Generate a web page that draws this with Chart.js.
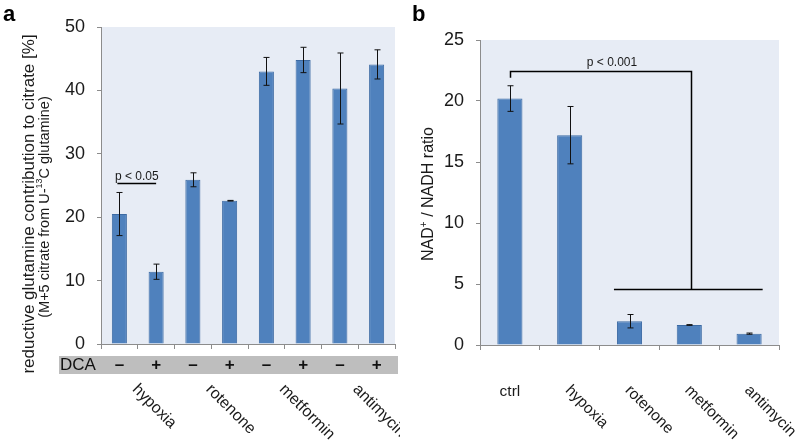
<!DOCTYPE html>
<html>
<head>
<meta charset="utf-8">
<script src="https://cdn.jsdelivr.net/npm/chart.js@4.4.1/dist/chart.umd.min.js"></script>
<style>
  html, body { margin: 0; padding: 0; background: #fff; }
  #wrap { width: 800px; height: 448px; display: flex; }
  canvas { display: block; }
</style>
</head>
<body>
<div id="wrap">
  <canvas id="chart-a" width="400" height="448"></canvas>
  <canvas id="chart-b" width="400" height="448"></canvas>
</div>
<script>
'use strict'

// **** DATA ****
const dcaSigns = ['–', '+', '–', '+', '–', '+', '–', '+'];
const treatmentGroups = ['hypoxia', 'rotenone', 'metformin', 'antimycin'];
const contribMeans = [20.5, 11.4, 25.9, 22.6, 43.0, 44.8, 40.3, 44.1];
const contribErrors = [3.4, 1.2, 1.1, 0.05, 2.2, 2.0, 5.6, 2.3];
const contribTicks = [0, 10, 20, 30, 40, 50];

const ratioLabels = ['ctrl', 'hypoxia', 'rotenone', 'metformin', 'antimycin'];
const ratioMeans = [20.2, 17.2, 1.95, 1.64, 0.93];
const ratioErrors = [1.05, 2.35, 0.55, 0.03, 0.05];
const ratioTicks = [0, 5, 10, 15, 20, 25];

// **** STYLE ****
const FONT = '"Liberation Sans", Arial, sans-serif';
const barFill = '#4F81BD';
const barEdge = '#3C6AA3';
const plotBg = '#E7ECF5';
const axisGray = '#8C8C8C';
const textColor = '#1a1a1a';

// **** PLUGINS ****
const plotBackground = {
    id: 'plotBackground',
    beforeDraw(chart) {
        const a = chart.chartArea;
        const ctx = chart.ctx;
        ctx.save();
        ctx.fillStyle = plotBg;
        ctx.fillRect(a.left, a.top, a.right - a.left, a.bottom - a.top);
        ctx.restore();
    }
};

const errorBars = {
    id: 'errorBars',
    afterDatasetsDraw(chart, args, opts) {
        const ctx = chart.ctx;
        const y = chart.scales.y;
        const meta = chart.getDatasetMeta(0);
        const means = chart.data.datasets[0].data;
        ctx.save();
        ctx.strokeStyle = '#111';
        ctx.lineWidth = 1;
        meta.data.forEach((bar, i) => {
            const err = opts.errors[i];
            const top = y.getPixelForValue(means[i] + err);
            const bot = y.getPixelForValue(means[i] - err);
            const x = Math.round(bar.x) + 0.5;
            ctx.beginPath();
            ctx.moveTo(x, top); ctx.lineTo(x, bot);
            ctx.moveTo(x - 3, top); ctx.lineTo(x + 3, top);
            ctx.moveTo(x - 3, bot); ctx.lineTo(x + 3, bot);
            ctx.stroke();
        });
        ctx.restore();
    }
};

function rotatedLabel(ctx, text, x, y) {
    ctx.save();
    ctx.translate(x, y);
    ctx.rotate(Math.PI / 4);
    ctx.textAlign = 'left';
    ctx.textBaseline = 'middle';
    ctx.fillText(text, 0, 0);
    ctx.restore();
}

function verticalText(ctx, text, x, y, font) {
    ctx.save();
    ctx.translate(x, y);
    ctx.rotate(-Math.PI / 2);
    ctx.font = font;
    ctx.textAlign = 'center';
    ctx.textBaseline = 'middle';
    ctx.fillText(text, 0, 0);
    ctx.restore();
}

const panelADecor = {
    id: 'panelADecor',
    afterDraw(chart) {
        const ctx = chart.ctx;
        const xs = chart.scales.x;
        const ys = chart.scales.y;
        const area = chart.chartArea;
        ctx.save();
        ctx.fillStyle = '#000';

        // panel letter
        ctx.font = 'bold 22px ' + FONT;
        ctx.textBaseline = 'alphabetic';
        ctx.fillText('a', 3, 21);

        // axis titles
        ctx.fillStyle = textColor;
        verticalText(ctx, 'reductive glutamine contribution to citrate [%]', 29, 204, '17px ' + FONT);
        // second line, with superscript 13
        ctx.save();
        ctx.translate(45, 207);
        ctx.rotate(-Math.PI / 2);
        ctx.textBaseline = 'middle';
        const partA = '(M+5 citrate from U-';
        const partB = '13';
        const partC = 'C glutamine)';
        ctx.font = '14.5px ' + FONT;
        const wA = ctx.measureText(partA).width;
        const wC = ctx.measureText(partC).width;
        ctx.font = '9px ' + FONT;
        const wB = ctx.measureText(partB).width;
        let cx = -(wA + wB + wC) / 2;
        ctx.font = '14.5px ' + FONT;
        ctx.fillText(partA, cx, 0);
        ctx.font = '9px ' + FONT;
        ctx.fillText(partB, cx + wA, -5);
        ctx.font = '14.5px ' + FONT;
        ctx.fillText(partC, cx + wA + wB, 0);
        ctx.restore();

        // DCA band
        ctx.fillStyle = '#BEBEBE';
        ctx.fillRect(59, area.bottom + 12, area.right + 3 - 59, 18);
        ctx.fillStyle = '#111';
        ctx.font = '17px ' + FONT;
        ctx.textBaseline = 'middle';
        ctx.textAlign = 'left';
        ctx.fillText('DCA', 60, area.bottom + 21.5);
        ctx.textAlign = 'center';
        ctx.font = 'bold 17px ' + FONT;
        dcaSigns.forEach((s, i) => {
            ctx.fillText(s, xs.getPixelForValue(i), area.bottom + 21.5);
        });

        // treatment labels, one per DCA pair
        ctx.font = '16px ' + FONT;
        ctx.fillStyle = textColor;
        treatmentGroups.forEach((g, k) => {
            const mid = (xs.getPixelForValue(2 * k) + xs.getPixelForValue(2 * k + 1)) / 2;
            rotatedLabel(ctx, g, mid - 3, area.bottom + 43);
        });

        // significance line
        const x0 = xs.getPixelForValue(0);
        const x1 = xs.getPixelForValue(1);
        const py = Math.round(ys.getPixelForValue(25.4)) + 0.5;
        ctx.strokeStyle = '#000';
        ctx.lineWidth = 1.5;
        ctx.beginPath();
        ctx.moveTo(x0 - 2, py); ctx.lineTo(x1, py);
        ctx.stroke();
        ctx.font = '12px ' + FONT;
        ctx.textAlign = 'center';
        ctx.textBaseline = 'alphabetic';
        ctx.fillText('p < 0.05', (x0 + x1) / 2 - 1, py - 4);
        ctx.restore();
    }
};

const panelBDecor = {
    id: 'panelBDecor',
    afterDraw(chart) {
        const ctx = chart.ctx;
        const xs = chart.scales.x;
        const ys = chart.scales.y;
        const area = chart.chartArea;
        const meta = chart.getDatasetMeta(0);
        ctx.save();

        ctx.fillStyle = '#000';
        ctx.font = 'bold 22px ' + FONT;
        ctx.fillText('b', 12, 21);

        // y title with superscript +
        ctx.fillStyle = textColor;
        ctx.save();
        ctx.translate(29, 194);
        ctx.rotate(-Math.PI / 2);
        ctx.textBaseline = 'middle';
        ctx.font = '16px ' + FONT;
        const w1 = ctx.measureText('NAD').width;
        const w3 = ctx.measureText(' / NADH ratio').width;
        ctx.font = '10px ' + FONT;
        const w2 = ctx.measureText('+').width;
        const sx = -(w1 + w2 + w3) / 2;
        ctx.font = '16px ' + FONT;
        ctx.fillText('NAD', sx, 0);
        ctx.font = '10px ' + FONT;
        ctx.fillText('+', sx + w1, -5);
        ctx.font = '16px ' + FONT;
        ctx.fillText(' / NADH ratio', sx + w1 + w2, 0);
        ctx.restore();

        // x labels
        ctx.font = '15.5px ' + FONT;
        ratioLabels.forEach((lab, i) => {
            const x = xs.getPixelForValue(i);
            if (i === 0) {
                ctx.textAlign = 'center';
                ctx.textBaseline = 'alphabetic';
                ctx.fillText(lab, x, area.bottom + 51);
            } else {
                rotatedLabel(ctx, lab, x - 2, area.bottom + 43);
            }
        });

        // bracket
        const xc = Math.round(xs.getPixelForValue(0)) + 0.5;
        const xm = Math.round(xs.getPixelForValue(3)) + 2.5;
        const yTop = Math.round(ys.getPixelForValue(22.45)) + 0.5;
        const yStub = ys.getPixelForValue(21.9);
        const yLow = Math.round(ys.getPixelForValue(4.57)) + 0.5;
        const rot = meta.data[2];
        const ant = meta.data[4];
        ctx.strokeStyle = '#000';
        ctx.lineWidth = 1.5;
        ctx.beginPath();
        ctx.moveTo(xc, yStub); ctx.lineTo(xc, yTop); ctx.lineTo(xm, yTop); ctx.lineTo(xm, yLow);
        ctx.moveTo(rot.x - rot.width / 2 - 3, yLow); ctx.lineTo(ant.x + ant.width / 2 + 1, yLow);
        ctx.stroke();

        ctx.fillStyle = textColor;
        ctx.font = '12px ' + FONT;
        ctx.textAlign = 'center';
        ctx.textBaseline = 'alphabetic';
        ctx.fillText('p < 0.001', (xc + xm) / 2 + 11, yTop - 6);
        ctx.restore();
    }
};

// **** CHART BUILDERS ****
function buildConfig(labels, means, errors, ticks, yWidth, xHeight, pad, barPct, decor) {
    return {
        type: 'bar',
        data: {
            labels: labels,
            datasets: [{
                data: means,
                backgroundColor: barFill,
                borderColor: barEdge,
                borderWidth: 1,
                barPercentage: barPct,
                categoryPercentage: 1
            }]
        },
        options: {
            responsive: false,
            animation: false,
            layout: { padding: pad },
            plugins: {
                legend: { display: false },
                tooltip: { enabled: false },
                errorBars: { errors: errors }
            },
            scales: {
                x: {
                    offset: true,
                    ticks: { display: false },
                    grid: { offset: true, drawOnChartArea: false, tickLength: 5, color: axisGray },
                    border: { color: axisGray },
                    afterFit(scale) { scale.height = xHeight; }
                },
                y: {
                    min: ticks[0],
                    max: ticks[ticks.length - 1],
                    afterBuildTicks(scale) { scale.ticks = ticks.map(v => ({ value: v })); },
                    ticks: {
                        color: textColor,
                        padding: 12,
                        font: { family: FONT, size: 18 }
                    },
                    grid: { drawOnChartArea: false, tickLength: 4, color: axisGray },
                    border: { color: axisGray },
                    afterFit(scale) { scale.width = yWidth; }
                }
            }
        },
        plugins: [plotBackground, errorBars, decor]
    };
}

// **** EXECUTABLE CODE ****
new Chart(document.getElementById('chart-a'),
    buildConfig(dcaSigns, contribMeans, contribErrors, contribTicks, 101, 104,
        { top: 27, right: 5, left: 0, bottom: 0 }, 0.41, panelADecor));

new Chart(document.getElementById('chart-b'),
    buildConfig(ratioLabels, ratioMeans, ratioErrors, ratioTicks, 80, 103,
        { top: 40, right: 21, left: 0, bottom: 0 }, 0.42, panelBDecor));
</script>
</body>
</html>
